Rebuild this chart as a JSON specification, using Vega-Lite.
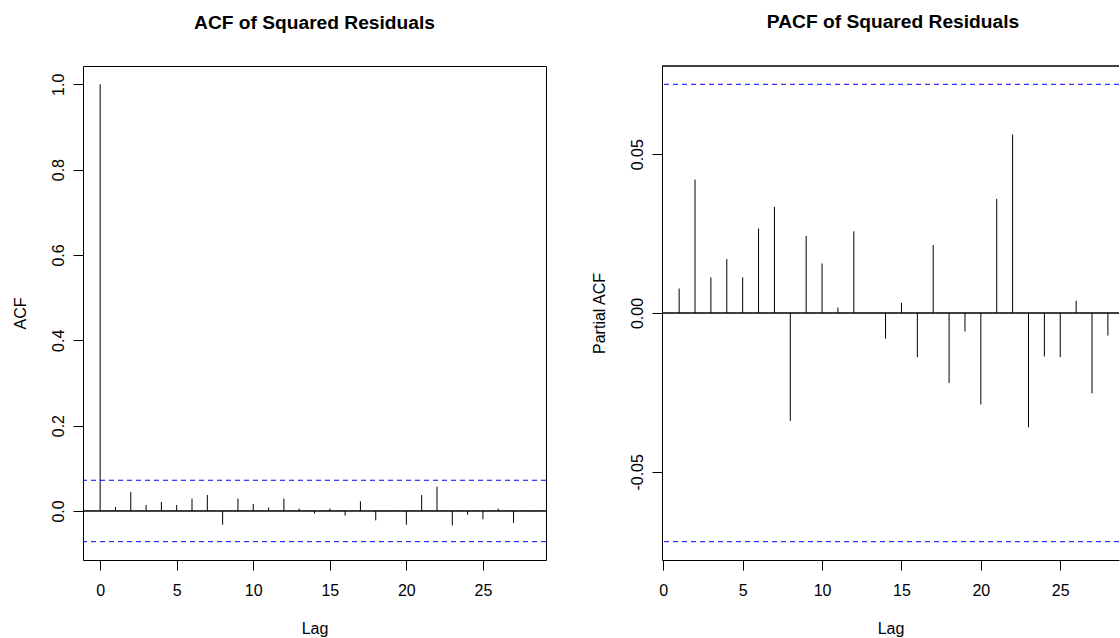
{
  "$schema": "https://vega.github.io/schema/vega-lite/v6.json",
  "padding": {"left": 11, "top": 13, "right": 0, "bottom": 0},
  "background": "white",
  "datasets": {
    "acf": [
      {"lag": 0, "acf": 1.0}, {"lag": 1, "acf": 0.0094}, {"lag": 2, "acf": 0.0445}, {"lag": 3, "acf": 0.014},
      {"lag": 4, "acf": 0.021}, {"lag": 5, "acf": 0.014}, {"lag": 6, "acf": 0.029}, {"lag": 7, "acf": 0.0375},
      {"lag": 8, "acf": -0.032}, {"lag": 9, "acf": 0.029}, {"lag": 10, "acf": 0.0164}, {"lag": 11, "acf": 0.0078},
      {"lag": 12, "acf": 0.029}, {"lag": 13, "acf": 0.0055}, {"lag": 14, "acf": -0.006}, {"lag": 15, "acf": 0.0055},
      {"lag": 16, "acf": -0.011}, {"lag": 17, "acf": 0.0226}, {"lag": 18, "acf": -0.022}, {"lag": 19, "acf": -0.0005},
      {"lag": 20, "acf": -0.032}, {"lag": 21, "acf": 0.0375}, {"lag": 22, "acf": 0.057}, {"lag": 23, "acf": -0.034},
      {"lag": 24, "acf": -0.0086}, {"lag": 25, "acf": -0.0195}, {"lag": 26, "acf": 0.0055}, {"lag": 27, "acf": -0.028},
      {"lag": 28, "acf": -0.0005}
    ],
    "pacf": [
      {"lag": 1, "pacf": 0.0077}, {"lag": 2, "pacf": 0.042}, {"lag": 3, "pacf": 0.0112}, {"lag": 4, "pacf": 0.017},
      {"lag": 5, "pacf": 0.0112}, {"lag": 6, "pacf": 0.0266}, {"lag": 7, "pacf": 0.0334}, {"lag": 8, "pacf": -0.034},
      {"lag": 9, "pacf": 0.0243}, {"lag": 10, "pacf": 0.0156}, {"lag": 11, "pacf": 0.0017}, {"lag": 12, "pacf": 0.0257},
      {"lag": 13, "pacf": 0.0002}, {"lag": 14, "pacf": -0.0081}, {"lag": 15, "pacf": 0.0032}, {"lag": 16, "pacf": -0.0139},
      {"lag": 17, "pacf": 0.0214}, {"lag": 18, "pacf": -0.022}, {"lag": 19, "pacf": -0.0058}, {"lag": 20, "pacf": -0.0288},
      {"lag": 21, "pacf": 0.0359}, {"lag": 22, "pacf": 0.0562}, {"lag": 23, "pacf": -0.036}, {"lag": 24, "pacf": -0.0137},
      {"lag": 25, "pacf": -0.0139}, {"lag": 26, "pacf": 0.0039}, {"lag": 27, "pacf": -0.0253}, {"lag": 28, "pacf": -0.0071}
    ],
    "ci": [{"v": 0.072}, {"v": -0.072}]
  },
  "config": {
    "font": "Liberation Sans",
    "view": {"stroke": "black", "strokeWidth": 1},
    "axis": {
      "grid": false, "domain": false, "tickColor": "black", "tickSize": 10, "tickWidth": 1,
      "labelFont": "Liberation Sans", "labelFontSize": 16, "labelColor": "black",
      "labelFlush": false, "labelOverlap": false, "labelBound": false,
      "titleFont": "Liberation Sans", "titleFontSize": 16, "titleFontWeight": "normal", "titleColor": "black"
    },
    "axisX": {"labelPadding": 12, "titlePadding": 22},
    "axisY": {"labelAngle": -90, "labelAlign": "center", "labelBaseline": "bottom", "labelPadding": 7, "titlePadding": 22},
    "title": {"font": "Liberation Sans", "fontSize": 19.2, "fontWeight": "bold", "color": "black", "anchor": "middle", "frame": "group", "baseline": "alphabetic", "offset": 33}
  },
  "bounds": "flush",
  "spacing": 116,
  "hconcat": [
    {
      "width": 463,
      "height": 494,
      "title": {"text": "ACF of Squared Residuals"},
      "layer": [
        {
          "data": {"name": "acf"},
          "mark": {"type": "rule", "color": "black", "strokeWidth": 1},
          "encoding": {
            "x": {"field": "lag", "type": "quantitative", "scale": {"domain": [-1.12, 29.12], "nice": false, "zero": false},
                  "axis": {"values": [0, 5, 10, 15, 20, 25], "title": "Lag"}},
            "y": {"field": "acf", "type": "quantitative", "scale": {"domain": [-0.1149, 1.0429], "nice": false, "zero": false},
                  "axis": {"values": [0, 0.2, 0.4, 0.6, 0.8, 1.0], "format": ".1f", "title": "ACF"}},
            "y2": {"datum": 0}
          }
        },
        {
          "data": {"name": "ci"},
          "mark": {"type": "rule", "color": "#0000ff", "strokeWidth": 1, "strokeDash": [5, 4]},
          "encoding": {"y": {"field": "v", "type": "quantitative", "title": "ACF"}}
        },
        {
          "data": {"name": "ci"},
          "mark": {"type": "rule", "color": "black", "strokeWidth": 1},
          "encoding": {"y": {"datum": 0}}
        }
      ]
    },
    {
      "width": 457,
      "height": 494,
      "view": {"stroke": null},
      "title": {"text": "PACF of Squared Residuals", "dx": 2.5},
      "layer": [
        {
          "data": {"name": "pacf"},
          "mark": {"type": "rule", "color": "black", "strokeWidth": 1},
          "encoding": {
            "x": {"field": "lag", "type": "quantitative", "scale": {"domain": [-0.08, 28.70], "nice": false, "zero": false},
                  "axis": {"values": [0, 5, 10, 15, 20, 25], "title": "Lag", "domain": true, "domainColor": "black"}},
            "y": {"field": "pacf", "type": "quantitative", "scale": {"domain": [-0.07776, 0.07776], "nice": false, "zero": false},
                  "axis": {"values": [-0.05, 0, 0.05], "title": "Partial ACF", "domain": true, "domainColor": "black",
                           "labelExpr": "datum.value < 0 ? '-' + format(-datum.value, '.2f') : format(datum.value, '.2f')"}},
            "y2": {"datum": 0}
          }
        },
        {
          "data": {"name": "ci"},
          "mark": {"type": "rule", "color": "#0000ff", "strokeWidth": 1, "strokeDash": [5, 4]},
          "encoding": {"y": {"field": "v", "type": "quantitative", "title": "Partial ACF"}}
        },
        {
          "data": {"name": "ci"},
          "mark": {"type": "rule", "color": "black", "strokeWidth": 1},
          "encoding": {"y": {"datum": 0}}
        },
        {
          "data": {"name": "ci"},
          "mark": {"type": "rule", "color": "black", "strokeWidth": 1},
          "encoding": {"y": {"datum": 0.07776}}
        }
      ]
    }
  ]
}
